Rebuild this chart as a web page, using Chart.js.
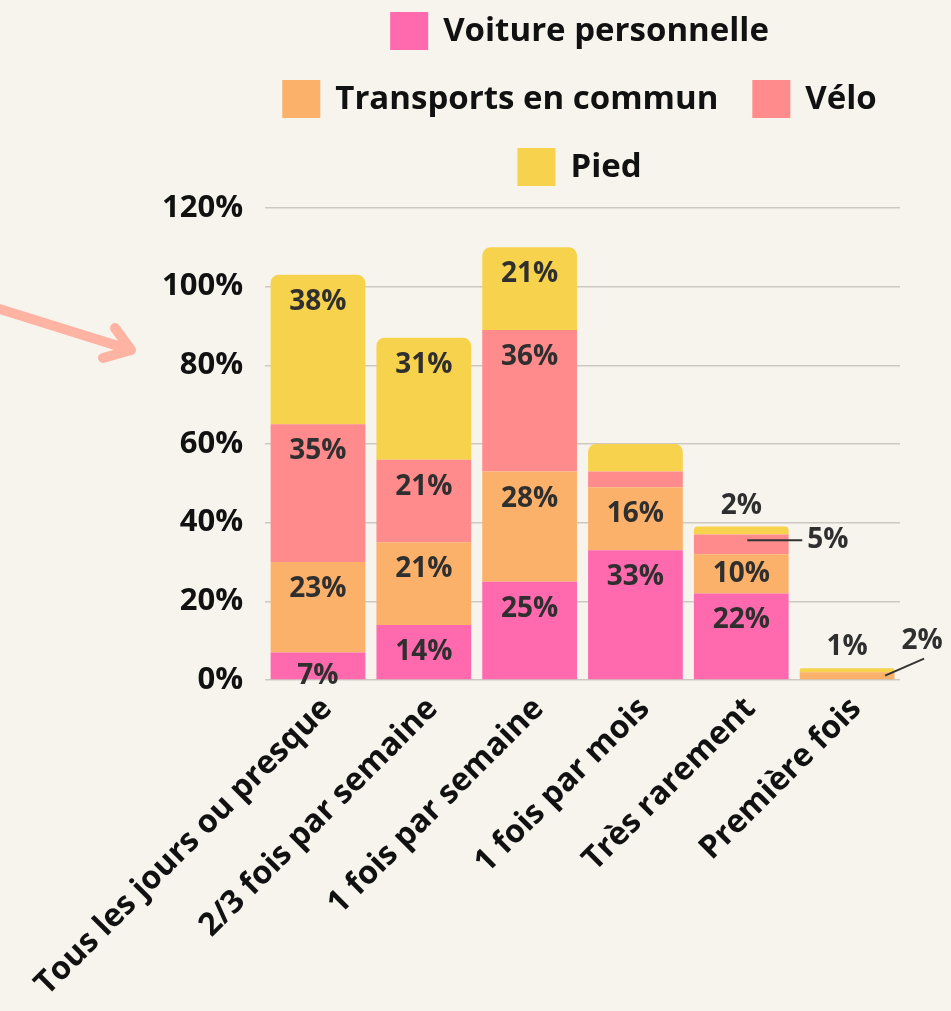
<!DOCTYPE html>
<html lang="fr">
<head>
<meta charset="utf-8">
<script src="https://cdn.jsdelivr.net/npm/chart.js@4.4.1/dist/chart.umd.min.js"></script>
<style>
  html, body { margin: 0; padding: 0; background: #f7f4ee; }
  #wrap { width: 951px; height: 1011px; }
</style>
</head>
<body>
<div id="wrap"><canvas id="chart" width="951" height="1011"></canvas></div>
<script>
const categories = ['Tous les jours ou presque', '2/3 fois par semaine', '1 fois par semaine', '1 fois par mois', 'Très rarement', 'Première fois'];
const seriesNames = ['Voiture personnelle', 'Transports en commun', 'Vélo', 'Pied'];
const voiture = [7, 14, 25, 33, 22, 0];
const transports = [23, 21, 28, 16, 10, 2];
const velo = [35, 21, 36, 4, 5, 0];
const pied = [38, 31, 21, 7, 2, 1];
const yTicks = [0, 20, 40, 60, 80, 100, 120];

// labels that are not written inside their segment: [bar, dataset, how]
const specialLabels = [
  [3, 2, 'none'], [3, 3, 'none'],
  [4, 3, 'above'], [4, 2, 'right'],
  [5, 3, 'above'], [5, 1, 'diag']
];

const colors = ['#ff69ae', '#fbb169', '#ff8b8c', '#f7d24c'];
const FONT = "'Open Sans', sans-serif";
const BG = '#f7f4ee';

const bgPlugin = {
  id: 'bg',
  beforeDraw(chart) {
    const ctx = chart.ctx;
    ctx.save();
    ctx.fillStyle = BG;
    ctx.fillRect(0, 0, chart.width, chart.height);
    ctx.restore();
  }
};

// legend centred over the plot area, wrapped to its width
const legendPlugin = {
  id: 'topLegend',
  afterDraw(chart) {
    const ctx = chart.ctx;
    const area = chart.chartArea;
    const box = 38, gap = 15, itemGap = 34, rowH = 68;
    ctx.save();
    ctx.font = 'bold 33px ' + FONT;
    const items = seriesNames.map((name, i) => ({ name, color: colors[i], w: box + gap + ctx.measureText(name).width }));
    const rows = [];
    let cur = [], curW = 0;
    items.forEach(it => {
      const add = cur.length ? itemGap + it.w : it.w;
      if (cur.length && curW + add > area.width) {
        rows.push({ items: cur, w: curW });
        cur = [it]; curW = it.w;
      } else {
        cur.push(it); curW += add;
      }
    });
    rows.push({ items: cur, w: curW });
    const cx = (area.left + area.right) / 2 - 3;
    rows.forEach((row, r) => {
      const cy = 31 + r * rowH;
      let x = cx - row.w / 2;
      row.items.forEach(it => {
        ctx.fillStyle = it.color;
        ctx.fillRect(x, cy - box / 2, box, box);
        ctx.fillStyle = '#111';
        ctx.textBaseline = 'middle';
        ctx.textAlign = 'left';
        ctx.fillText(it.name, x + box + gap, cy + 1);
        x += it.w + itemGap;
      });
    });
    ctx.restore();
  }
};

const valuePlugin = {
  id: 'values',
  afterDatasetsDraw(chart) {
    const ctx = chart.ctx;
    ctx.save();
    ctx.font = 'bold 28px ' + FONT;
    ctx.fillStyle = '#2f2f2f';
    ctx.strokeStyle = '#333';
    ctx.lineWidth = 2;
    ctx.textBaseline = 'middle';
    chart.data.datasets.forEach((ds, di) => {
      const meta = chart.getDatasetMeta(di);
      meta.data.forEach((el, bi) => {
        const v = ds.data[bi];
        if (!v) return;
        const top = el.y, h = el.base - el.y, mid = top + h / 2;
        const sp = specialLabels.find(s => s[0] === bi && s[1] === di);
        const txt = v + '%';
        ctx.textAlign = 'center';
        if (!sp) {
          const off = h < 30 ? 24 : Math.min(27, h / 2);
          ctx.fillText(txt, el.x, top + off);
        } else if (sp[2] === 'above') {
          ctx.fillText(txt, el.x, top - 21);
        } else if (sp[2] === 'right') {
          ctx.beginPath();
          ctx.moveTo(el.x + 6, mid - 4);
          ctx.lineTo(el.x + 61, mid - 4);
          ctx.stroke();
          ctx.textAlign = 'left';
          ctx.fillText(txt, el.x + 66, mid - 4);
        } else if (sp[2] === 'diag') {
          ctx.beginPath();
          ctx.moveTo(el.x + 38, mid);
          ctx.lineTo(el.x + 77, mid - 17);
          ctx.stroke();
          ctx.fillText(txt, el.x + 75, mid - 35);
        }
      });
    });
    ctx.restore();
  }
};

// decorative arrow on the left
const arrowPlugin = {
  id: 'arrow',
  afterDraw(chart) {
    const ctx = chart.ctx;
    ctx.save();
    ctx.strokeStyle = '#ffb3a3';
    ctx.lineWidth = 10;
    ctx.lineCap = 'round';
    ctx.lineJoin = 'round';
    ctx.beginPath();
    ctx.moveTo(-10, 306);
    ctx.lineTo(131, 350);
    ctx.moveTo(115, 328);
    ctx.lineTo(131, 350);
    ctx.lineTo(103, 358);
    ctx.stroke();
    ctx.restore();
  }
};

const datasets = [voiture, transports, velo, pied].map((data, i) => ({
  label: seriesNames[i],
  data: data,
  backgroundColor: colors[i],
  borderWidth: 0,
  borderSkipped: 'start',
  borderRadius: i === 3 ? { topLeft: 8, topRight: 8, bottomLeft: 0, bottomRight: 0 } : 0,
  categoryPercentage: 1,
  barPercentage: 0.895
}));

new Chart(document.getElementById('chart'), {
  type: 'bar',
  data: { labels: categories, datasets: datasets },
  options: {
    responsive: false,
    animation: false,
    devicePixelRatio: 1,
    layout: { padding: { top: 208, right: 51, bottom: 0, left: 0 } },
    plugins: {
      legend: { display: false },
      tooltip: { enabled: false }
    },
    scales: {
      x: {
        stacked: true,
        grid: { display: false, drawTicks: false },
        border: { display: false },
        ticks: {
          color: '#111',
          font: { family: FONT, size: 32, weight: 'bold' },
          maxRotation: 45,
          minRotation: 45,
          autoSkip: false,
          labelOffset: 9,
          padding: 10
        },
        afterFit(scale) { scale.height = 331; }
      },
      y: {
        stacked: true,
        min: yTicks[0],
        max: yTicks[yTicks.length - 1],
        afterBuildTicks(scale) { scale.ticks = yTicks.map(v => ({ value: v })); },
        grid: { color: '#cdc9c2', lineWidth: 1.5, drawTicks: false },
        border: { display: false },
        ticks: {
          color: '#111',
          font: { family: FONT, size: 31, weight: 'bold' },
          padding: 22,
          callback: v => v + '%'
        },
        afterFit(scale) { scale.width = 261; }
      }
    }
  },
  plugins: [bgPlugin, legendPlugin, valuePlugin, arrowPlugin]
});
</script>
</body>
</html>
